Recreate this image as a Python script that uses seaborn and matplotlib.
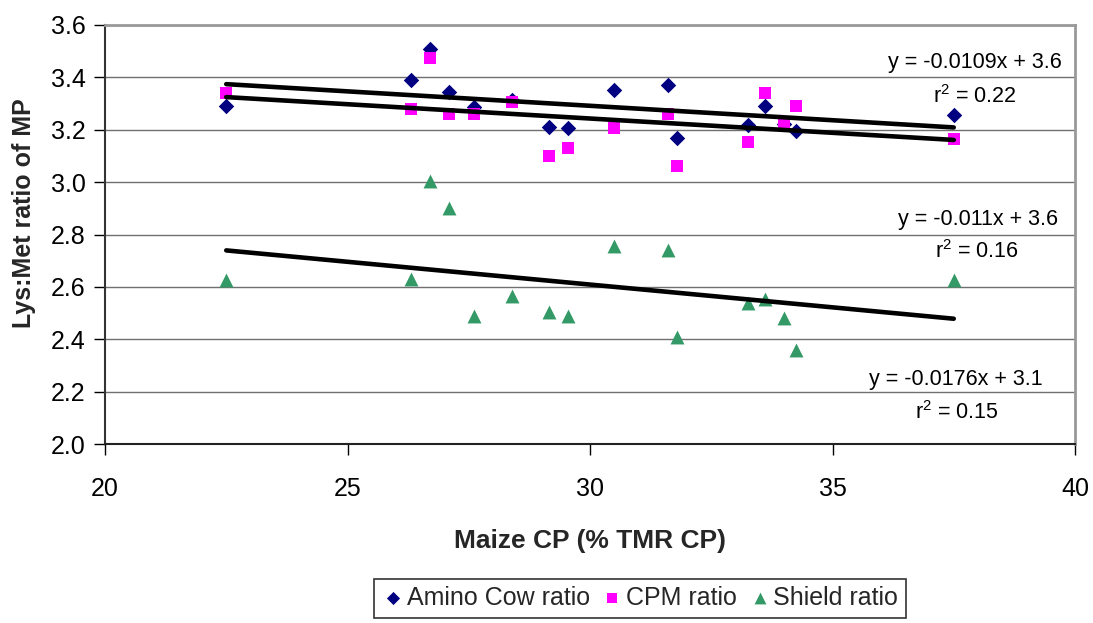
import matplotlib
matplotlib.use("Agg")
import matplotlib.pyplot as plt
import seaborn as sns
import numpy as np
import pandas as pd

# ---- data ----
maize_cp = [22.5, 26.3, 26.7, 27.1, 27.6, 28.4, 29.15, 29.55, 30.5, 31.6, 31.8, 33.25, 33.6, 34.0, 34.25, 37.5]
amino_cow = [3.29, 3.39, 3.51, 3.345, 3.285, 3.315, 3.21, 3.205, 3.35, 3.37, 3.17, 3.22, 3.29, 3.222, 3.195, 3.255]
cpm = [3.34, 3.28, 3.475, 3.26, 3.26, 3.305, 3.10, 3.13, 3.205, 3.26, 3.06, 3.155, 3.34, 3.22, 3.29, 3.165]
shield = [2.625, 2.63, 3.005, 2.90, 2.49, 2.565, 2.505, 2.49, 2.755, 2.74, 2.41, 2.54, 2.555, 2.48, 2.36, 2.625]

series_names = ["Amino Cow ratio", "CPM ratio", "Shield ratio"]
eq_labels = ["y = -0.0109x + 3.6", "y = -0.011x + 3.6", "y = -0.0176x + 3.1"]
r2_labels = ["r$^2$ = 0.22", "r$^2$ = 0.16", "r$^2$ = 0.15"]
x_ticks = [20, 25, 30, 35, 40]
y_ticks = [2.0, 2.2, 2.4, 2.6, 2.8, 3.0, 3.2, 3.4, 3.6]

sns.set_theme(style="white")
plt.rcParams['font.family'] = ['Liberation Sans', 'DejaVu Sans']
plt.rcParams['mathtext.fontset'] = 'custom'
plt.rcParams['mathtext.rm'] = 'Liberation Sans'

fig = plt.figure(figsize=(10.93, 6.23), dpi=100)
W, H = 1093, 623
ax = fig.add_axes([105 / W, 1 - 444 / H, 970 / W, 419 / H])

df = pd.DataFrame({"x": maize_cp, "a": amino_cow, "c": cpm, "s": shield})

styles = [("a", "#000080", "D", 62), ("c", "#FF00FF", "s", 85), ("s", "#339966", "^", 100)]
for (col, color, marker, size), name in zip(styles, series_names):
    sns.scatterplot(data=df, x="x", y=col, ax=ax, color=color, marker=marker,
                    s=size, linewidth=0, label=name, zorder=3)

for col, _, _, _ in styles:
    sns.regplot(data=df, x="x", y=col, ax=ax, scatter=False, ci=None, truncate=True,
                line_kws=dict(color="black", lw=3.3, solid_capstyle="round", zorder=4))

ax.set_xlim(20, 40)
ax.set_ylim(2.0, 3.6)
ax.set_xticks(x_ticks)
ax.set_yticks(y_ticks)
ax.set_yticklabels([f"{v:.1f}" for v in y_ticks])
ax.set_xticklabels([str(v) for v in x_ticks])
ax.tick_params(axis="both", labelsize=18, colors="black", direction="out", length=8,
               width=1, left=True, bottom=True)
ax.tick_params(axis="y", pad=6)
ax.tick_params(axis="x", pad=16)

ax.grid(axis="y", color="#707070", lw=1)
ax.grid(axis="x", visible=False)
ax.set_axisbelow(True)
for side in ["top", "right"]:
    ax.spines[side].set_color("#999999")
    ax.spines[side].set_linewidth(2)
ax.spines["left"].set_color("#333333")
ax.spines["left"].set_linewidth(1.5)
ax.spines["bottom"].set_color("#222222")
ax.spines["bottom"].set_linewidth(1.5)

ax.set_xlabel("Maize CP (% TMR CP)", fontsize=19, fontweight="bold")
ax.set_ylabel("Lys:Met ratio of MP", fontsize=18, fontweight="bold")
ax.yaxis.set_label_coords(-0.071, 0.55)
ax.xaxis.set_label_coords(0.5, -0.203)

# trend-line annotations (positions in data coords)
eq_pos = [(39.73, 3.455), (39.65, 2.857), (39.34, 2.245)]
r2_pos = [(37.94, 3.328), (37.98, 2.735), (37.57, 2.122)]
for t, (x, y) in zip(eq_labels, eq_pos):
    ax.text(x, y, t, fontsize=15.5, ha="right", va="center", color="black")
for t, (x, y) in zip(r2_labels, r2_pos):
    ax.text(x, y, t, fontsize=15.5, ha="center", va="center", color="black")

handles, labels = ax.get_legend_handles_labels()
leg = ax.legend(handles[:3], labels[:3], loc="center", ncol=3,
                bbox_to_anchor=(640 / W, 1 - 598 / H), bbox_transform=fig.transFigure,
                fontsize=18, frameon=True, fancybox=False, edgecolor="black",
                handletextpad=0.1, columnspacing=0.45, handlelength=0.9,
                borderpad=0.3, markerscale=0.85)
leg.get_frame().set_linewidth(1.2)

fig.savefig("out.png", dpi=100)
